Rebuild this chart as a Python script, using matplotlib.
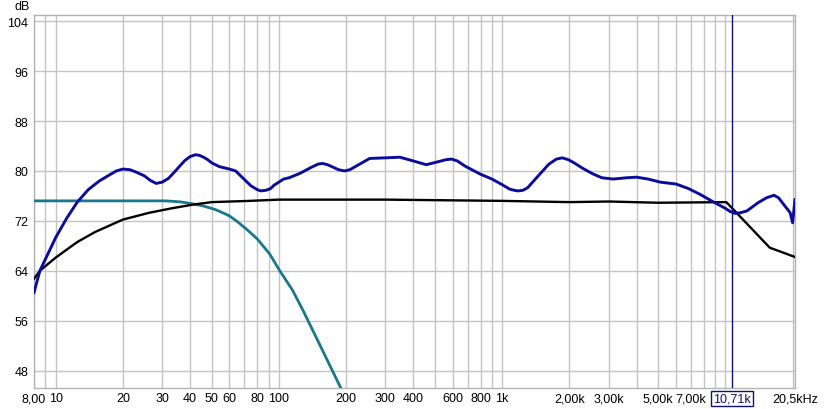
import matplotlib
matplotlib.use('Agg')
import matplotlib.pyplot as plt
from matplotlib.ticker import FixedLocator, LogLocator, NullFormatter

plt.rcParams['font.family'] = ['Liberation Sans', 'DejaVu Sans']

# measured response (blue)
freq_meas = [8.0, 8.5, 10, 11.2, 12.5, 14, 15.7, 17.5, 18.7, 20, 21.5, 23, 25, 26.5, 28.2,
             30, 32, 34, 36, 38, 40, 42.3, 44, 46, 48, 50, 54, 60, 64, 68.8, 75, 80, 83,
             87.6, 92, 95, 105, 111, 124, 140, 150, 157, 165, 175, 185, 197, 208, 220,
             255, 300, 348, 400, 457, 520, 560, 593, 630, 680, 797, 900, 1000, 1079, 1130,
             1178, 1240, 1300, 1450, 1620, 1750, 1859, 1980, 2100, 2300, 2560, 2800, 3150,
             3600, 4000, 4500, 5120, 6010, 6800, 7650, 8870, 10000, 10500, 11000, 11700,
             12500, 14000, 15300, 16500, 17300, 18000, 19500, 20000, 20500]
db_meas = [60.5, 64.0, 69.3, 72.4, 75.0, 77.0, 78.4, 79.4, 80.0, 80.3, 80.2, 79.8, 79.2,
           78.5, 78.0, 78.2, 78.8, 79.8, 80.8, 81.7, 82.3, 82.6, 82.5, 82.2, 81.8, 81.3,
           80.7, 80.3, 80.0, 78.9, 77.6, 77.0, 76.8, 76.9, 77.2, 77.7, 78.7, 78.9, 79.6,
           80.6, 81.1, 81.2, 81.0, 80.6, 80.2, 80.0, 80.2, 80.7, 82.0, 82.1, 82.2, 81.6,
           81.0, 81.5, 81.8, 81.9, 81.6, 80.8, 79.5, 78.7, 77.8, 77.1, 76.9, 76.8, 76.9,
           77.3, 79.2, 81.1, 81.9, 82.1, 81.8, 81.3, 80.4, 79.5, 78.9, 78.7, 78.9, 79.0,
           78.7, 78.2, 77.9, 77.2, 76.3, 75.0, 74.0, 73.5, 73.2, 73.3, 73.6, 74.9, 75.7,
           76.1, 75.7, 74.9, 73.3, 71.7, 75.4]

# target curve (black)
freq_target = [8, 8.5, 10, 12.5, 15, 20, 26.3, 33, 41.2, 50, 74, 100, 300, 1000, 2000,
               3000, 5000, 10100, 15800, 20500]
db_target = [62.7, 64.0, 66.1, 68.6, 70.2, 72.2, 73.3, 74.0, 74.6, 75.0, 75.2, 75.4, 75.4,
             75.2, 75.0, 75.1, 74.9, 75.0, 67.7, 66.2]

# low-pass (teal)
freq_lp = [8, 20, 31, 36, 40, 45.7, 52, 56, 60, 65, 71.4, 80, 90.9, 100.9, 115, 128, 147,
           165, 187, 195]
db_lp = [75.2, 75.2, 75.2, 75.05, 74.8, 74.4, 73.8, 73.3, 72.8, 71.9, 70.7, 69.1, 66.7,
         64.0, 60.9, 57.7, 53.3, 49.6, 45.6, 44.3]

cursor_freq = 10710
x_ticks = [8, 10, 20, 30, 40, 50, 60, 80, 100, 200, 300, 400, 600, 800, 1000,
           2000, 3000, 5000, 7000, 20500]
x_labels = ['8,00', '10', '20', '30', '40', '50', '60', '80', '100', '200', '300', '400',
            '600', '800', '1k', '2,00k', '3,00k', '5,00k', '7,00k', '20,5kHz']
y_ticks = [48, 56, 64, 72, 80, 88, 96, 104]

fig = plt.figure(figsize=(8.3, 4.1), dpi=100)
ax = fig.add_axes([34 / 830, 1 - 389 / 410, 761 / 830, 373 / 410])

ax.plot(freq_lp, db_lp, color='#18788c', lw=2.0, zorder=3)
ax.plot(freq_target, db_target, color='black', lw=1.7, zorder=4)
ax.plot(freq_meas, db_meas, color='#0c0c9c', lw=2.1, zorder=5)
ax.axvline(cursor_freq, color='#10107a', lw=1.0, zorder=6)

ax.set_xscale('log')
ax.set_xlim(8, 20500)
ax.set_ylim(45.2, 105)

ax.xaxis.set_major_locator(FixedLocator(x_ticks))
ax.set_xticklabels(x_labels)
ax.xaxis.set_minor_locator(LogLocator(base=10, subs=range(1, 10), numticks=20))
ax.xaxis.set_minor_formatter(NullFormatter())
ax.set_yticks(y_ticks)

ax.grid(True, which='both', axis='x', color='#c4c4c4', lw=1.0)
ax.grid(True, which='major', axis='y', color='#c4c4c4', lw=1.0)
ax.tick_params(which='both', length=0, labelsize=9, colors='black')
ax.tick_params(axis='x', pad=3)
ax.tick_params(axis='y', pad=4)
for s in ax.spines.values():
    s.set_color('#b4b4b4')
    s.set_linewidth(1.0)

ax.text(-0.005, 1.016, 'dB', transform=ax.transAxes, ha='right', va='baseline', fontsize=9)
ax.text(cursor_freq, -0.012, '10,71k', transform=ax.get_xaxis_transform(),
        ha='center', va='top', fontsize=9, color='#10107a',
        bbox=dict(boxstyle='square,pad=0.15', fc='white', ec='#10107a', lw=1.0))

fig.savefig('out.png', dpi=100)
